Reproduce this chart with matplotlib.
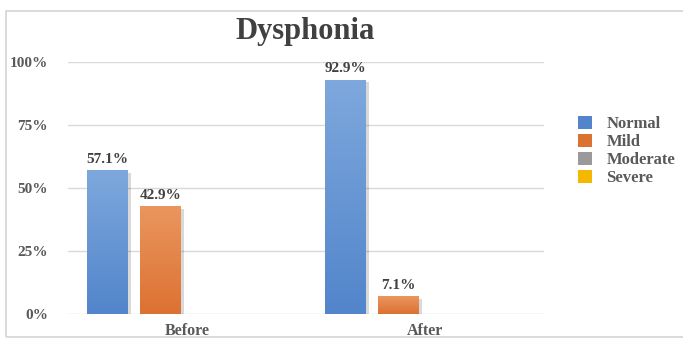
import numpy as np
import matplotlib
matplotlib.use("Agg")
import matplotlib.pyplot as plt
from matplotlib.patches import Rectangle
from matplotlib.colors import LinearSegmentedColormap
import matplotlib.patheffects as pe

# Dysphonia grade distribution before and after treatment (percent of patients)
categories = ["Before", "After"]
series_names = ["Normal", "Mild", "Moderate", "Severe"]
normal = [57.1, 92.9]
mild = [42.9, 7.1]
moderate = [0.0, 0.0]
severe = [0.0, 0.0]
y_ticks = [0, 25, 50, 75, 100]
y_tick_labels = ["0%", "25%", "50%", "75%", "100%"]

series_values = [normal, mild, moderate, severe]
# (top colour, bottom colour) of each series' vertical gradient
series_colors = [("#7ea8dd", "#5285cb"),
                 ("#ea965e", "#dc7232"),
                 ("#b4b4b4", "#9a9a9a"),
                 ("#ffcc33", "#f5b800")]

plt.rcParams["font.family"] = ["Liberation Serif", "DejaVu Serif"]
plt.rcParams["font.weight"] = "bold"

fig = plt.figure(figsize=(6.83, 3.38), dpi=100)
ax = fig.add_axes([68 / 683, 1 - 314.3 / 338, (544 - 68) / 683, (314.3 - 61.7) / 338])

x = np.arange(len(categories))
bar_w = 0.172
step = 0.222
offsets = (np.arange(len(series_names)) - 1.5) * step

legend_handles = []
for i, (name, vals) in enumerate(zip(series_names, series_values)):
    top_c, bot_c = series_colors[i]
    cmap = LinearSegmentedColormap.from_list(name, [bot_c, top_c])
    bars = ax.bar(x + offsets[i], vals, width=bar_w, color=bot_c, linewidth=0,
                  zorder=3, label=name)
    for patch, v in zip(bars.patches, vals):
        if v <= 0:
            continue
        patch.set_path_effects([pe.SimplePatchShadow(offset=(2, -2), shadow_rgbFace="#000000",
                                                     alpha=0.15), pe.Normal()])
        x0 = patch.get_x()
        grad = np.linspace(0, 1, 64).reshape(-1, 1)
        im = ax.imshow(grad, extent=(x0, x0 + patch.get_width(), 0, v), origin="lower",
                       aspect="auto", cmap=cmap, zorder=3.5, interpolation="bilinear")
        im.set_clip_path(patch)
        ax.annotate(f"{v:.1f}%", (x0 + patch.get_width() / 2, v), xytext=(0, 3),
                    textcoords="offset points", ha="center", va="bottom",
                    fontsize=11, fontweight="bold", color="#404040", zorder=5)
    legend_handles.append(Rectangle((0, 0), 1, 1, facecolor=bot_c, edgecolor="none"))

ax.set_xlim(-0.5, 1.5)
ax.set_ylim(0, 100)
ax.set_yticks(y_ticks)
ax.set_yticklabels(y_tick_labels)
ax.set_xticks(x)
ax.set_xticklabels(categories)
ax.tick_params(axis="y", length=0, pad=14.5, labelsize=11, labelcolor="#595959")
ax.tick_params(axis="x", length=0, pad=6.5, labelsize=11.5, labelcolor="#595959")
for lab in ax.get_xticklabels() + ax.get_yticklabels():
    lab.set_fontweight("bold")
for s in ax.spines.values():
    s.set_visible(False)
ax.yaxis.grid(True, color="#d9d9d9", linewidth=1, zorder=0)
ax.set_axisbelow(True)

fig.text(305 / 683, 1 - 32 / 338, "Dysphonia", ha="center", va="center",
         fontsize=22, fontweight="bold", color="#404040")

leg = fig.legend(legend_handles, series_names, loc="center left",
                 bbox_to_anchor=(578 / 683, 1 - 151 / 338), frameon=False,
                 fontsize=12, handlelength=0.85, handleheight=0.85,
                 handletextpad=0.85, labelspacing=0.1, borderpad=0, borderaxespad=0)
for t in leg.get_texts():
    t.set_color("#595959")
    t.set_fontweight("bold")

# Chart frame
fig.add_artist(Rectangle((6 / 683, 1 / 338), 1.0, 1 - 12 / 338, transform=fig.transFigure,
                         facecolor="none", edgecolor="#d4d4d4", linewidth=1.2, clip_on=False))

fig.savefig("out.png", dpi=100)
